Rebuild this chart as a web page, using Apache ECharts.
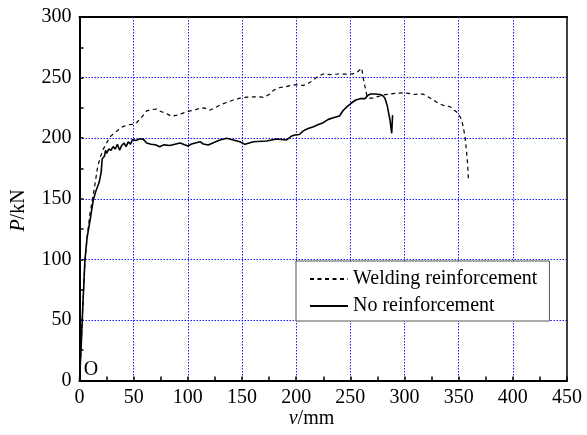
<!DOCTYPE html>
<html>
<head>
<meta charset="utf-8">
<script src="https://cdn.jsdelivr.net/npm/echarts@6/dist/echarts.min.js"></script>
<style>
html,body{margin:0;padding:0;background:#fff;}
#chart{width:587px;height:435px;}
</style>
</head>
<body>
<div id="chart"></div>
<script>
// ---- data ----
var seriesNames = ['Welding reinforcement', 'No reinforcement'];
var xTicks = [0, 50, 100, 150, 200, 250, 300, 350, 400, 450];
var yTicks = [0, 50, 100, 150, 200, 250, 300];

var weldV = [0, 1.4, 3, 5, 7, 9.7, 12, 14.3, 16.5, 19, 22, 25, 28, 32, 36, 40, 45, 50, 53, 56, 59, 62, 66, 71, 75, 80, 85, 90, 95, 99, 105, 111, 115, 120, 125, 130, 136, 142, 148, 154, 160, 166.6, 170, 175, 179, 185, 191, 197, 200.5, 206.6, 211, 216, 220, 225, 232, 240.5, 246, 251, 255, 257, 260.5, 262, 264.5, 265.7, 268, 271, 274, 277.4, 282, 286.6, 292, 299, 304, 308, 312, 317, 322, 326.6, 331, 336, 342, 346, 349.7, 352.8, 354.5, 355.9, 357.4, 358.3, 359];
var weldP = [0, 25, 60, 99, 118, 138, 150, 162, 175, 184, 191, 196, 201, 204, 207, 209.5, 211, 211.5, 213, 216, 219, 222.5, 223.5, 224, 222, 220.5, 218, 219, 220.5, 222, 223, 224.6, 225, 223, 225, 227.5, 229.5, 231.5, 233, 233.8, 234, 234, 233.7, 236, 239.5, 241.8, 242.5, 244, 244, 243.5, 245, 248, 251, 253, 252.5, 253, 252.8, 253, 253.5, 255, 257.7, 249.4, 238.3, 234, 233, 233, 234, 234.8, 236, 236.4, 237, 237.5, 237, 236, 236.4, 236.4, 234, 231.5, 229, 227, 226, 223, 220.5, 215, 208, 201, 187.5, 178, 166.9];

var noV = [0, 1.4, 3, 5, 7, 9.7, 12.7, 15, 18.3, 20, 21, 23, 24, 25, 27, 29, 31, 33, 35, 37, 39, 41, 43, 45, 47, 49, 52, 56, 59, 62, 66, 70, 74, 78, 83.5, 88, 93, 97, 100, 103.5, 111.2, 114.3, 118.9, 123.5, 129.6, 135.8, 142, 148, 152.8, 160.4, 172.7, 181.9, 191.1, 196, 198.8, 200.5, 203, 206.6, 211, 216, 220, 225, 229.7, 235, 240, 243.5, 247, 251, 255, 259, 263.5, 266.6, 269, 272.8, 277.4, 280, 282, 284, 285.5, 286.6, 288.2, 289];
var noP = [0, 25, 60, 99, 118, 132, 149, 156, 164, 172, 183, 185, 190, 187.5, 191, 190, 193, 191, 195, 190, 194, 196, 193, 197, 195, 199, 198, 199.5, 199, 196, 195, 194.5, 193, 194.5, 194, 195, 196, 194.5, 193.5, 195.2, 197.1, 195.2, 194.4, 196.3, 198.5, 199.9, 198.5, 197.1, 194.9, 197.1, 197.6, 199.3, 198.5, 201.8, 202.6, 201.8, 203, 206, 208, 209.5, 211, 212.8, 215.5, 217, 218.3, 223, 226, 229, 231.5, 232.6, 232.6, 235.6, 236.5, 236.4, 236, 235, 233, 227, 220, 215, 204, 219];

function pairs(xs, ys) {
  var out = [];
  for (var i = 0; i < xs.length; i++) out.push([xs[i], ys[i]]);
  return out;
}

var FONT = "'Liberation Serif', 'Times New Roman', serif";
var gridLine = { show: true, showMinLine: false, showMaxLine: false,
  lineStyle: { color: '#1a1aff', width: 1, type: [1.5, 1.5] } };

var chart = echarts.init(document.getElementById('chart'), null, { renderer: 'canvas' });
chart.setOption({
  animation: false,
  backgroundColor: '#ffffff',
  grid: { left: 79.5, top: 17, right: 20, bottom: 54.5, containLabel: false },
  legend: {
    orient: 'vertical',
    left: 296, top: 261,
    data: seriesNames,
    borderColor: '#555555', borderWidth: 1,
    backgroundColor: '#ffffff',
    padding: [8, 12, 5, 13],
    itemWidth: 38, itemHeight: 14, itemGap: 7,
    itemStyle: { opacity: 0, borderWidth: 0 },
    textStyle: { fontFamily: FONT, fontSize: 20, color: '#000' }
  },
  xAxis: [{
    type: 'value', min: xTicks[0], max: xTicks[xTicks.length - 1], interval: 50,
    axisLine: { show: true, onZero: false, lineStyle: { color: '#000', width: 2 } },
    axisTick: { show: true, inside: true, length: 4, lineStyle: { color: '#000', width: 1.5 } },
    minorTick: { show: true, splitNumber: 2, length: 4, lineStyle: { color: '#000', width: 1.5 } },
    axisLabel: { fontFamily: FONT, fontSize: 20, color: '#000', margin: 7,
      formatter: function (v) { return xTicks.indexOf(v) >= 0 ? String(v) : ''; } },
    splitLine: gridLine
  }, {
    type: 'value', position: 'top', min: 0, max: 450,
    axisLine: { show: true, onZero: false, lineStyle: { color: '#000', width: 2 } },
    axisTick: { show: false }, axisLabel: { show: false }, splitLine: { show: false }
  }],
  yAxis: [{
    type: 'value', min: yTicks[0], max: yTicks[yTicks.length - 1], interval: 50,
    axisLine: { show: true, onZero: false, lineStyle: { color: '#000', width: 2 } },
    axisTick: { show: true, inside: true, length: 4, lineStyle: { color: '#000', width: 1.5 } },
    minorTick: { show: true, splitNumber: 2, length: 4, lineStyle: { color: '#000', width: 1.5 } },
    axisLabel: { fontFamily: FONT, fontSize: 20, color: '#000', margin: 8,
      formatter: function (v) { return yTicks.indexOf(v) >= 0 ? String(v) : ''; } },
    splitLine: gridLine
  }, {
    type: 'value', position: 'right', min: 0, max: 300,
    axisLine: { show: true, onZero: false, lineStyle: { color: '#000', width: 1.5 } },
    axisTick: { show: false }, axisLabel: { show: false }, splitLine: { show: false }
  }],
  series: [{
    name: seriesNames[0], type: 'line', symbol: 'none', showSymbol: false,
    data: pairs(weldV, weldP),
    lineStyle: { color: '#000', width: 1.2, type: [4, 3.5] },
    itemStyle: { color: '#000' }, z: 3
  }, {
    name: seriesNames[1], type: 'line', symbol: 'none', showSymbol: false,
    data: pairs(noV, noP),
    lineStyle: { color: '#000', width: 1.6, type: 'solid' },
    itemStyle: { color: '#000' }, z: 4
  }],
  graphic: [{
    type: 'text', x: 91, y: 369.5,
    style: { text: 'O', fontFamily: FONT, fontSize: 20, fill: '#000', align: 'center', verticalAlign: 'middle' }
  }, {
    type: 'text', x: 311.5, y: 419,
    style: { text: '{i|v}/mm', fontFamily: FONT, fontSize: 20, fill: '#000', align: 'center', verticalAlign: 'middle',
      rich: { i: { fontFamily: FONT, fontSize: 20, fontStyle: 'italic', fill: '#000' } } }
  }, {
    type: 'text', x: 19, y: 210.5, rotation: Math.PI / 2,
    style: { text: '{i|P}/kN', fontFamily: FONT, fontSize: 20, fill: '#000', align: 'center', verticalAlign: 'middle',
      rich: { i: { fontFamily: FONT, fontSize: 20, fontStyle: 'italic', fill: '#000' } } }
  }]
});
</script>
</body>
</html>
